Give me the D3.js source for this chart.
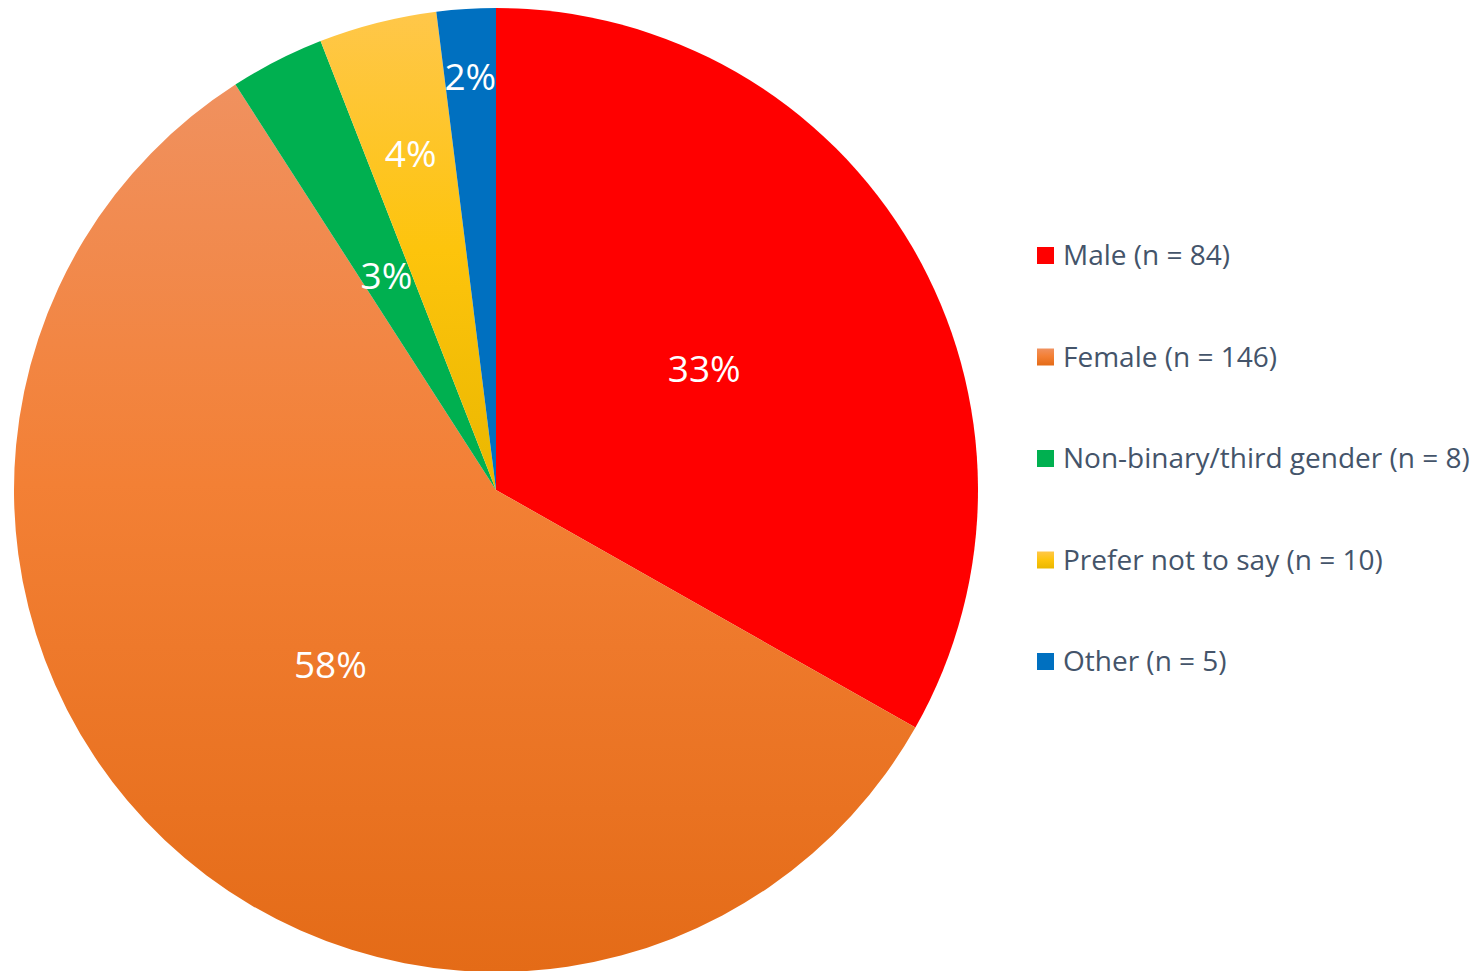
<!DOCTYPE html>
<html>
<head>
<meta charset="utf-8">
<script src="https://cdn.jsdelivr.net/npm/d3@7/dist/d3.min.js"></script>
<style>
  html, body { margin: 0; padding: 0; background: #fff; }
  svg { display: block; }
</style>
</head>
<body>
<svg id="chart" width="1484" height="971"></svg>
<script>
// ---- data ----
const categories = ["Male", "Female", "Non-binary/third gender", "Prefer not to say", "Other"];
const counts = [84, 146, 8, 10, 5];
const legendLabels = ["Male (n = 84)", "Female (n = 146)", "Non-binary/third gender (n = 8)", "Prefer not to say (n = 10)", "Other (n = 5)"];
const percentLabels = ["33%", "58%", "3%", "4%", "2%"];

// ---- styling (not data) ----
const gradients = [
  [["0%", "#FF0000"], ["100%", "#FF0000"]],
  [["0%", "#F0915F"], ["45%", "#F38035"], ["100%", "#E46B17"]],
  [["0%", "#00B050"], ["100%", "#00B050"]],
  [["0%", "#FFC74A"], ["50%", "#FDC40C"], ["100%", "#EAB700"]],
  [["0%", "#0070C0"], ["100%", "#0070C0"]]
];
const labelRadiusFrac = [0.5, 0.5, 0.5, 0.72, 0.86];

const W = 1484, H = 971;
const cx = 496, cy = 490, R = 482;

const svg = d3.select("#chart");
const defs = svg.append("defs");
gradients.forEach((stops, i) => {
  const g = defs.append("linearGradient")
    .attr("id", "grad" + i)
    .attr("x1", 0).attr("y1", 0).attr("x2", 0).attr("y2", 1);
  stops.forEach(s => g.append("stop").attr("offset", s[0]).attr("stop-color", s[1]));
});

const data = categories.map((c, i) => ({ name: c, value: counts[i], i }));
const pie = d3.pie().value(d => d.value).sort(null);
const arcs = pie(data);
const arc = d3.arc().innerRadius(0).outerRadius(R);

const g = svg.append("g").attr("transform", `translate(${cx},${cy})`);
g.selectAll("path.slice")
  .data(arcs)
  .join("path")
  .attr("class", "slice")
  .attr("d", arc)
  .attr("fill", d => `url(#grad${d.index})`);

g.selectAll("text.pct")
  .data(arcs)
  .join("text")
  .attr("class", "pct")
  .attr("transform", d => {
    const a = d3.arc().innerRadius(R * labelRadiusFrac[d.index]).outerRadius(R * labelRadiusFrac[d.index]);
    const [x, y] = a.centroid(d);
    return `translate(${x},${y})`;
  })
  .attr("text-anchor", "middle")
  .attr("dy", "0.36em")
  .attr("font-family", "'Open Sans', sans-serif")
  .attr("font-size", 37)
  .attr("fill", "#ffffff")
  .text(d => percentLabels[d.index]);

// ---- legend ----
const legendY = d3.scalePoint().domain(d3.range(categories.length)).range([255, 661]);
const legend = svg.append("g");
const items = legend.selectAll("g.item")
  .data(data)
  .join("g")
  .attr("class", "item")
  .attr("transform", d => `translate(1037,${legendY(d.i)})`);
items.append("rect")
  .attr("x", 0).attr("y", -8).attr("width", 17).attr("height", 17)
  .attr("fill", d => `url(#grad${d.i})`);
items.append("text")
  .attr("x", 26).attr("y", 0).attr("dy", "0.36em")
  .attr("font-family", "'Open Sans', sans-serif")
  .attr("font-size", 28)
  .attr("fill", "#44546A")
  .text(d => legendLabels[d.i]);
</script>
</body>
</html>
